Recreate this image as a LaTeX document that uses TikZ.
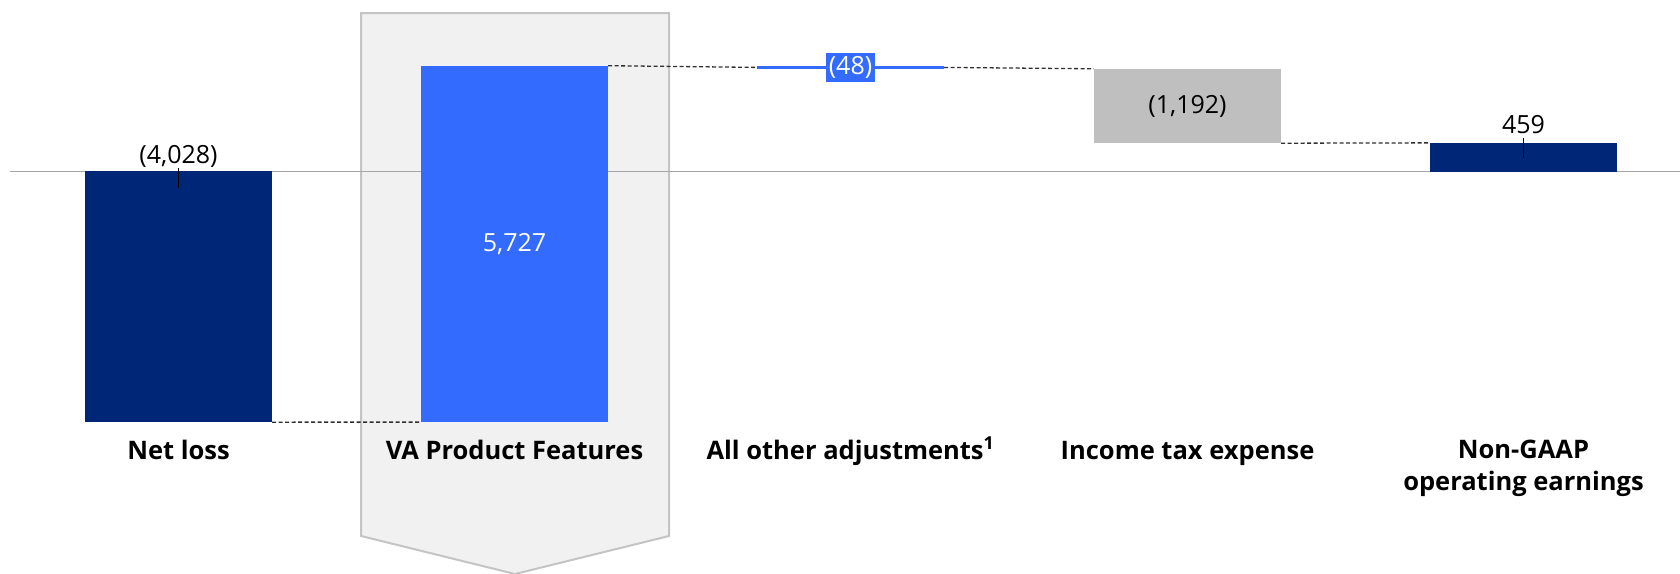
\documentclass[tikz,border=0pt]{standalone}
\usepackage{fontspec}
\setmainfont{Open Sans}
\usetikzlibrary{positioning}

\definecolor{navy}{HTML}{002677}
\definecolor{vablue}{HTML}{336BFF}
\definecolor{taxgray}{HTML}{BFBFBF}
\definecolor{panelfill}{HTML}{F1F1F1}
\definecolor{paneledge}{HTML}{C4C4C4}
\definecolor{axisgray}{HTML}{A6A6A6}
\definecolor{linkgray}{HTML}{303030}

\tikzset{
  bar/.style={inner sep=0pt, minimum width=187pt},
  numlabel/.style={inner sep=0pt, text depth=5pt, font=\fontsize{25}{30}\selectfont},
  catlabel/.style={inner sep=0pt, align=center, font=\fontsize{25.5}{32}\selectfont\bfseries},
  link/.style={linkgray, dash pattern=on 4pt off 2.5pt, line width=1.3pt},
  tick/.style={black, line width=1.2pt}
}

\begin{document}
\begin{tikzpicture}[x=1pt,y=-1pt]
        \useasboundingbox (0,0) rectangle (1680,573);

        % highlighted column
        \filldraw[fill=panelfill, draw=paneledge, line width=2pt]
            (361,13) -- (669,13) -- (669,536) -- (515,574) -- (361,536) -- cycle;

        \draw[axisgray, line width=1.5pt] (10,171.5) -- (1680,171.5);

        % bars
        \node[bar, fill=navy, minimum height=250.5pt] (netloss) at (178.5,296.7) {};
        \node[bar, fill=vablue, minimum height=356pt, text=white,
              font=\fontsize{25}{30}\selectfont] (vapf) at (514.5,243.9) {5,727};
        \node[bar, fill=vablue, minimum height=3pt] (other) at (850.5,67.4) {};
        \node[fill=vablue, text=white, inner xsep=3pt, inner ysep=0pt, minimum height=29pt,
              font=\fontsize{25}{30}\selectfont] (otherval) at (850.5,67.5) {(48)};
        \node[bar, fill=taxgray, minimum height=74pt,
              font=\fontsize{25}{30}\selectfont] (tax) at (1187.5,106) {(1,192)};
        \node[bar, fill=navy, minimum height=28.5pt] (nongaap) at (1523.5,157.3) {};

        % links between the steps
        \draw[link] (netloss.south east) -- (vapf.south west);
        \draw[link] (vapf.north east) -- (other.west);
        \draw[link] (other.east) -- (tax.north west);
        \draw[link] (tax.south east) -- (nongaap.north west);

        % values above the totals
        \node[numlabel, anchor=base] (netlossval) at (178.5,163) {(4,028)};
        \coordinate (netlosstick) at (178.5,188);
        \draw[tick] (netlossval.south) -- (netlosstick);

        \node[numlabel, anchor=base] (nongaapval) at (1523.5,133) {459};
        \coordinate (nongaaptick) at (1523.5,158);
        \draw[tick] (nongaapval.south) -- (nongaaptick);

        % categories
        \node[catlabel, anchor=base] (netlosscat) at (178.5,459) {Net loss};
        \node[catlabel, anchor=base] (vapfcat) at (514.5,459) {VA Product Features};
        \node[catlabel, anchor=base] (othercat) at (850.5,459) {All other adjustments\textsuperscript{1}};
        \node[catlabel, anchor=base] (taxcat) at (1187.5,459) {Income tax expense};
        \node[catlabel, anchor=north] (nongaapcat) at (1523.5,440) {Non-GAAP\\operating earnings};
\end{tikzpicture}
\end{document}
